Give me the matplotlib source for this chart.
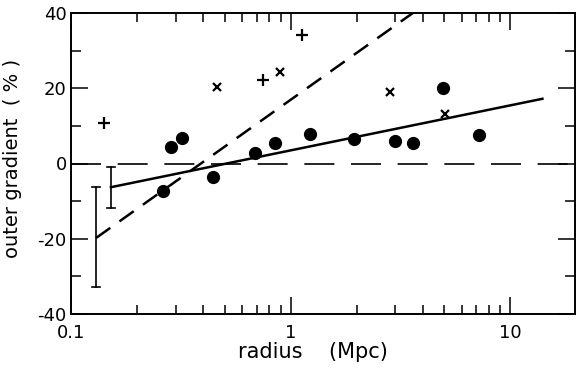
import matplotlib
matplotlib.use('Agg')
import matplotlib.pyplot as plt
import numpy as np

plt.rcParams['font.family'] = ['DejaVu Sans']

# filled circles
dot_r = [0.262, 0.286, 0.321, 0.444, 0.689, 0.85, 1.23, 1.95, 2.99, 3.61, 4.95, 7.22]
dot_g = [-7.3, 4.4, 6.8, -3.6, 2.8, 5.4, 7.8, 6.5, 6.0, 5.4, 20.0, 7.6]

# x symbols
x_r = [0.463, 0.895, 2.84, 5.06]
x_g = [20.3, 24.3, 19.0, 13.2]

# + symbols
p_r = [0.141, 0.75, 1.13]
p_g = [10.8, 22.2, 34.2]

# error bars at the start of the two fits
err_r = [0.130, 0.152]
err_lo = [-32.8, -11.9]
err_hi = [-6.3, -0.9]

# fitted lines (end points)
solid_r = [0.152, 14.0]
solid_g = [-6.3, 17.2]
dash_r = [0.130, 3.6]
dash_g = [-19.8, 40.0]

fig = plt.figure(figsize=(5.76, 3.73), dpi=100)
ax = fig.add_axes([71 / 576, 1 - 314 / 373, 504 / 576, 301 / 373])

ax.set_xscale('log')
ax.set_xlim(0.1, 19.7)
ax.set_ylim(-40, 40)

ax.axhline(0, color='black', lw=1.2, dashes=(18, 10))
ax.plot(solid_r, solid_g, color='black', lw=1.8)
ax.plot(dash_r, dash_g, color='black', lw=1.8, dashes=(7, 4.5))

ax.plot(dot_r, dot_g, 'o', color='black', ms=8.5)
ax.plot(x_r, x_g, 'x', color='black', ms=6, mew=1.6)
ax.plot(p_r, p_g, '+', color='black', ms=8, mew=1.6)

for r, lo, hi in zip(err_r, err_lo, err_hi):
    ax.plot([r, r], [lo, hi], color='black', lw=1.2)
    ax.plot([r / 1.045, r * 1.045], [lo, lo], color='black', lw=1.2)
    ax.plot([r / 1.045, r * 1.045], [hi, hi], color='black', lw=1.2)

for s in ax.spines.values():
    s.set_linewidth(1.4)

ax.set_yticks([-40, -20, 0, 20, 40])
ax.set_yticks([-30, -10, 10, 30], minor=True)
ax.set_yticklabels(['-40', '-20', '0', '20', '40'])
ax.set_xticks([0.1, 1, 10])
ax.set_xticklabels(['0.1', '1', '10'])
ax.tick_params(which='both', direction='in', top=True, right=True, labelsize=13,
               width=1.1, color='black')
ax.tick_params(which='major', length=12)
ax.tick_params(which='minor', length=6.5)
ax.tick_params(axis='x', pad=7)
ax.tick_params(axis='y', which='both', right=True, pad=3)
ax.tick_params(axis='y', which='minor', left=True, length=7)

# axis titles placed by hand
fig.text(313 / 576, 1 - 352 / 373, 'radius    (Mpc)', fontsize=15,
         ha='center', va='center')
fig.text(13 / 576, 1 - 158 / 373, 'outer gradient  ( % )', fontsize=14,
         rotation=90, ha='center', va='center')

plt.savefig('out.png', dpi=100)
